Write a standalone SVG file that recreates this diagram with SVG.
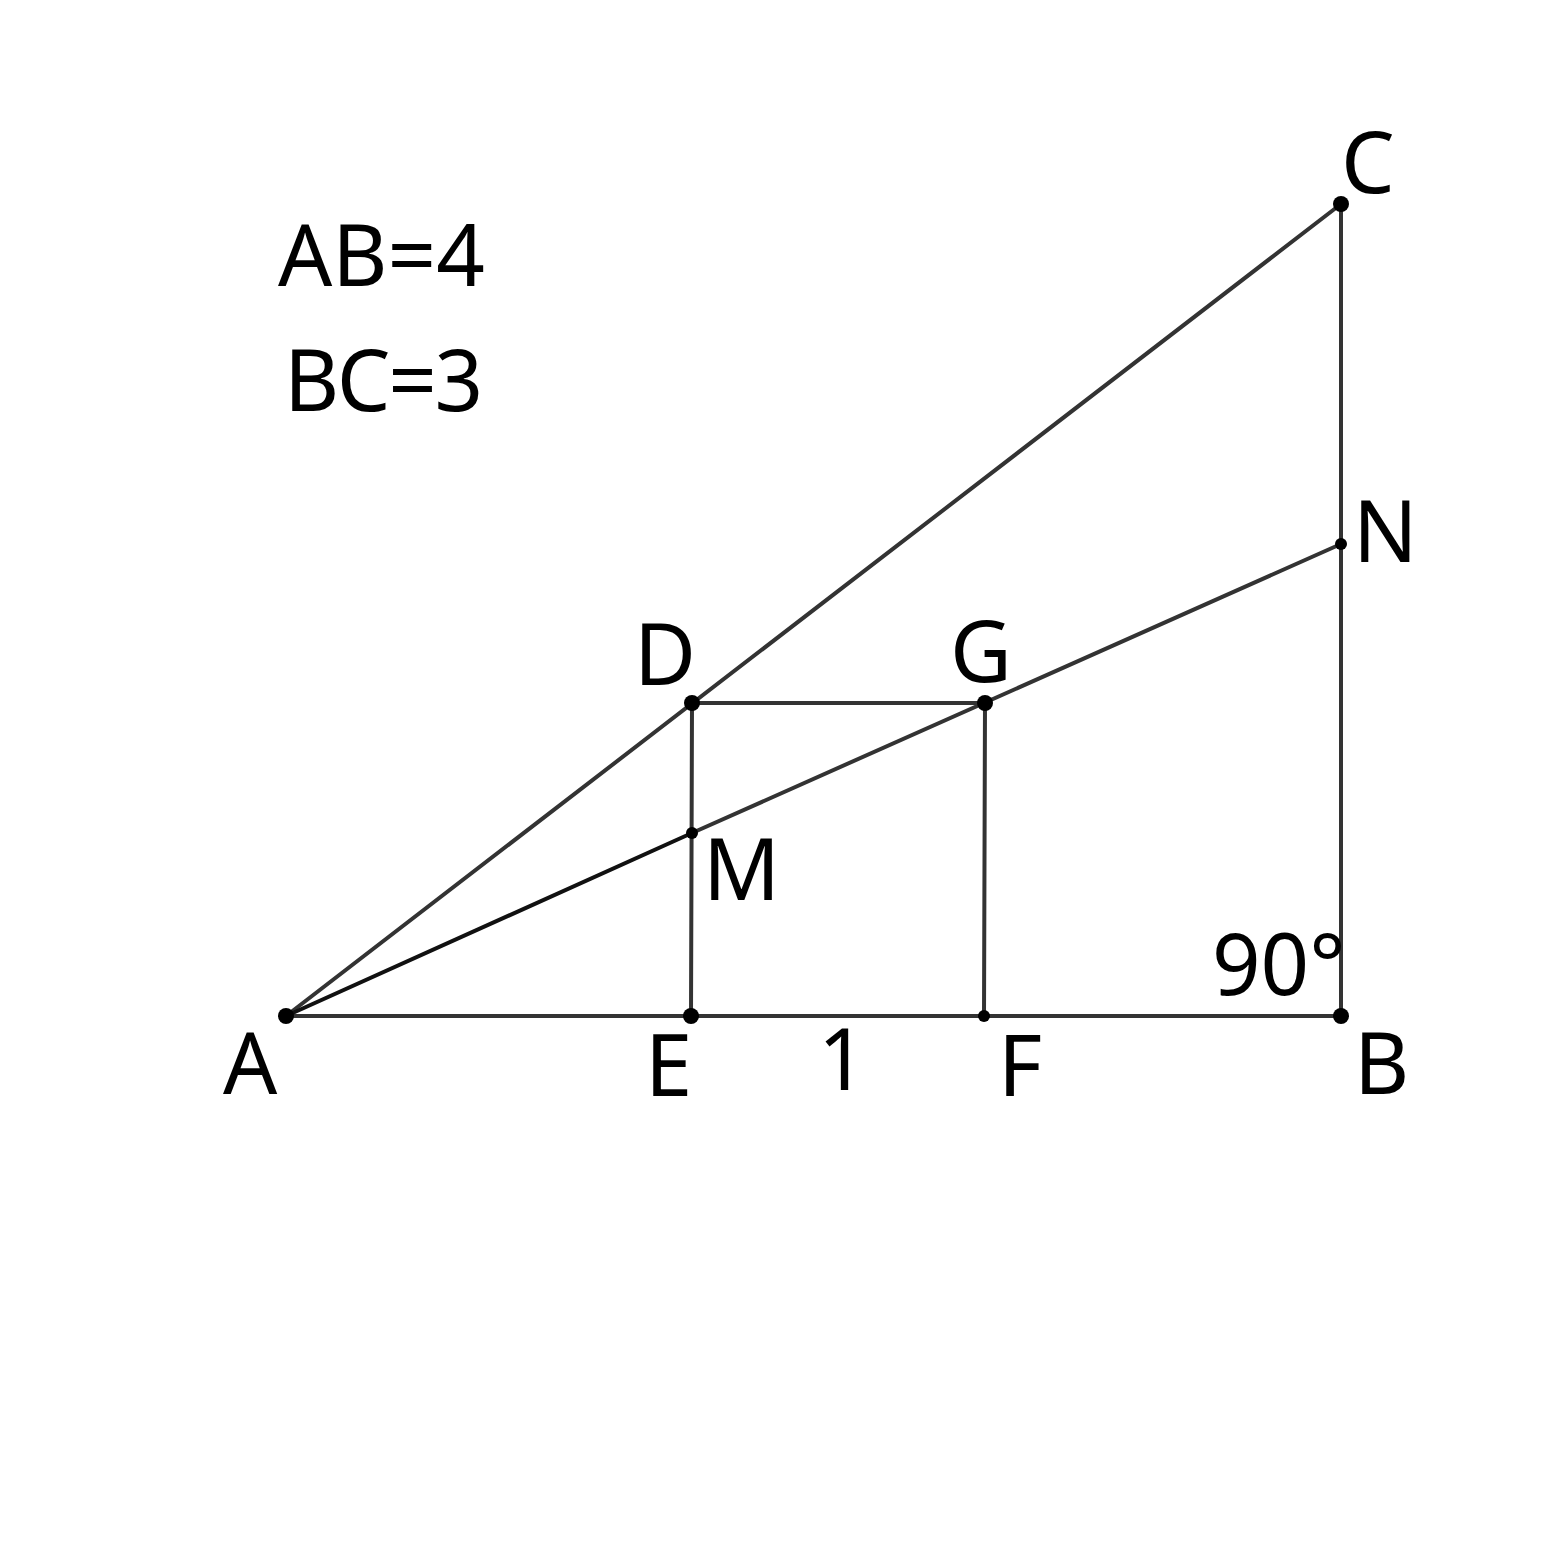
<svg xmlns="http://www.w3.org/2000/svg" width="1546" height="1546" viewBox="0 0 1546 1546">
<style>
.ln{stroke:#333;stroke-width:4;fill:none;stroke-linecap:round}
.lb{font-family:"Noto Sans","Open Sans",sans-serif;font-size:85px;fill:#000}
.pt{fill:#000}
</style>
<rect width="1546" height="1546" fill="#fff"/>
<g id="connectors">
<line class="ln" x1="286" y1="1016" x2="1341" y2="1016"/>
<line class="ln" x1="1341" y1="1016" x2="1341" y2="204"/>
<line class="ln" x1="286" y1="1016" x2="1341" y2="204"/>
<line class="ln" x1="692" y1="833" x2="1341" y2="544"/>
<line class="ln" x1="286" y1="1016" x2="692" y2="833" style="stroke:#111"/>
<line class="ln" x1="692" y1="703" x2="985" y2="703"/>
<line class="ln" x1="692" y1="703" x2="691" y2="1016"/>
<line class="ln" x1="985" y1="703" x2="984" y2="1016"/>
</g>
<g id="text-AB"><text class="lb" x="278" y="286">AB=4</text></g>
<g id="text-BC"><text class="lb" x="284" y="411" textLength="199" lengthAdjust="spacing">BC=3</text></g>
<g id="node-A"><circle class="pt" cx="286" cy="1016" r="8"/><text class="lb" x="223" y="1094">A</text></g>
<g id="node-B"><circle class="pt" cx="1341" cy="1016" r="8"/><text class="lb" x="1354" y="1094">B</text></g>
<g id="node-C"><circle class="pt" cx="1341" cy="204" r="8"/><text class="lb" x="1341" y="193">C</text></g>
<g id="node-D"><circle class="pt" cx="692" cy="703" r="8"/><text class="lb" x="634" y="685">D</text></g>
<g id="node-G"><circle class="pt" cx="985" cy="703" r="8"/><text class="lb" x="950" y="682">G</text></g>
<g id="node-E"><circle class="pt" cx="691" cy="1016" r="8"/><text class="lb" x="645" y="1096">E</text></g>
<g id="node-F"><circle class="pt" cx="984" cy="1016" r="6"/><text class="lb" x="998" y="1096">F</text></g>
<g id="node-M"><circle class="pt" cx="692" cy="833" r="6"/><text class="lb" x="703" y="900">M</text></g>
<g id="node-N"><circle class="pt" cx="1341" cy="544" r="6"/><text class="lb" x="1353" y="562">N</text></g>
<g id="label-1"><text class="lb" x="818" y="1090">1</text></g>
<g id="label-90"><text class="lb" x="1212" y="995">90°</text></g>
</svg>
